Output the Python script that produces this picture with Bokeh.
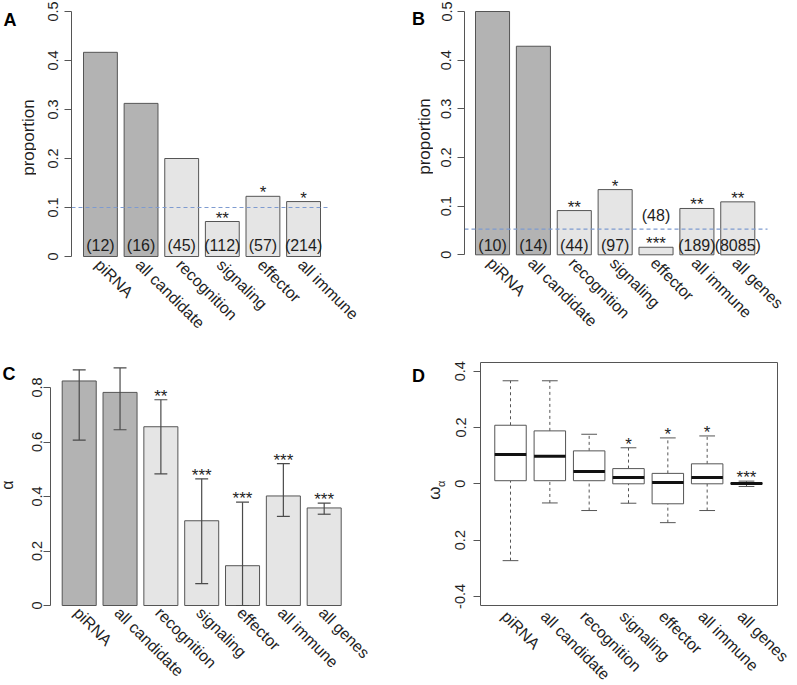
import numpy as np
from bokeh.plotting import figure
from bokeh.models import ColumnDataSource, Range1d, LabelSet, Label, FixedTicker
from bokeh.layouts import column, row
from bokeh.embed import file_html
from bokeh.resources import INLINE
from bokeh.core.properties import value

FONT = "Liberation Sans"

# ---------------- data ----------------
# Panel A: proportion of genes (first two = piRNA / candidate, rest immune)
a_categories = ["piRNA", "all candidate", "recognition", "signaling", "effector", "all immune"]
a_groups = ["dark", "dark", "light", "light", "light", "light"]
a_proportion = [0.4167, 0.3125, 0.2000, 0.0714, 0.1228, 0.1121]
a_counts = ["(12)", "(16)", "(45)", "(112)", "(57)", "(214)"]
a_count_raise = [0, 0, 0, 0, 0, 0]
a_stars = ["", "", "", "**", "*", "*"]
a_reference = 0.1

# Panel B
b_categories = ["piRNA", "all candidate", "recognition", "signaling", "effector", "all immune", "all genes"]
b_groups = ["dark", "dark", "light", "light", "light", "light", "light"]
b_proportion = [0.5000, 0.4286, 0.0909, 0.1340, 0.0155, 0.0952, 0.1088]
b_counts = ["(10)", "(14)", "(44)", "(97)", "(48)", "(189)", "(8085)"]
b_count_raise = [0, 0, 0, 0, 1, 0, 0]
b_stars = ["", "", "**", "*", "***", "**", "**"]
b_reference = 0.0527

# Panel C: alpha with confidence intervals
c_categories = ["piRNA", "all candidate", "recognition", "signaling", "effector", "all immune", "all genes"]
c_groups = ["dark", "dark", "light", "light", "light", "light", "light"]
c_alpha = [0.824, 0.782, 0.656, 0.311, 0.146, 0.402, 0.358]
c_lower = [0.607, 0.645, 0.483, 0.080, 0.000, 0.327, 0.335]
c_upper = [0.865, 0.872, 0.755, 0.465, 0.379, 0.521, 0.376]
c_stars = ["", "", "**", "***", "***", "***", "***"]

# Panel D: omega_alpha box plots
d_categories = ["piRNA", "all candidate", "recognition", "signaling", "effector", "all immune", "all genes"]
d_low = [-0.273, -0.068, -0.095, -0.069, -0.138, -0.095, -0.0095]
d_q1 = [0.011, 0.011, 0.011, 0.000, -0.071, 0.000, -0.001]
d_median = [0.104, 0.098, 0.044, 0.0225, 0.005, 0.0225, 0.001]
d_q3 = [0.208, 0.188, 0.117, 0.054, 0.037, 0.071, 0.0035]
d_high = [0.366, 0.366, 0.176, 0.128, 0.163, 0.170, 0.0095]
d_stars = ["", "", "", "*", "*", "*", "***"]

# ---------------- style ----------------
COLORS = {"dark": "#B3B3B3", "light": "#E5E5E5"}
EDGE = "#555555"
TXT = "#1e1e1e"
TICK_FS = "14.5px"
CAT_FS = "16px"
CNT_FS = "16px"
STAR_FS = "17px"
LAB_FS = "17px"
LET_FS = "18px"
REF_COLOR = "#7E9BD0"


def lin(px, p0, v0, p1, v1):
    return v0 + (px - p0) * (v1 - v0) / (p1 - p0)


def side_fig(w, h):
    p = figure(width=w, height=h, x_range=Range1d(0, w), y_range=Range1d(h, 0),
               output_backend="svg", toolbar_location=None, tools="", title=None,
               x_axis_location=None, y_axis_location=None, min_border=0)
    p.grid.visible = False
    p.outline_line_color = None
    return p


def main_fig(origin, size, frame_left, xmap, ymap, standoff):
    ox, oy = origin
    w, h = size
    xr = Range1d(lin(frame_left, *xmap), lin(ox + w, *xmap))
    yr = Range1d(lin(oy + h, *ymap), lin(oy, *ymap))
    p = figure(width=w, height=h, x_range=xr, y_range=yr, title=None,
               output_backend="svg", toolbar_location=None, tools="",
               x_axis_location=None,
               min_border_left=frame_left - ox, min_border_right=0,
               min_border_top=0, min_border_bottom=0)
    p.grid.visible = False
    p.outline_line_color = None
    ax = p.yaxis[0]
    ax.axis_line_color = EDGE
    ax.major_tick_line_color = EDGE
    ax.minor_tick_line_color = None
    ax.major_tick_out = 7
    ax.major_tick_in = 0
    ax.major_label_orientation = "vertical"
    ax.major_label_text_font = FONT
    ax.major_label_text_font_size = TICK_FS
    ax.major_label_text_color = TXT
    ax.major_label_standoff = standoff
    return p


def y_ticks(p, ticks, labels, bounds):
    ax = p.yaxis[0]
    ax.ticker = FixedTicker(ticks=ticks)
    ax.major_label_overrides = {t: l for t, l in zip(ticks, labels)}
    ax.bounds = bounds


def cat_labels(p, xs, y, cats, xoff, yoff):
    src = ColumnDataSource(dict(x=list(xs), y=[y] * len(xs), t=cats))
    p.add_layout(LabelSet(x="x", y="y", text="t", source=src, angle=-np.pi / 4,
                          x_offset=xoff, y_offset=yoff,
                          text_align="left", text_baseline="alphabetic",
                          text_font=value(FONT), text_font_size=CAT_FS,
                          text_color=TXT))


def star_labels(p, xs, ys, stars):
    src = ColumnDataSource(dict(x=list(xs), y=list(ys), t=stars))
    p.add_layout(LabelSet(x="x", y="y", text="t", source=src, y_offset=-2,
                          text_align="center", text_baseline="alphabetic",
                          text_font=value(FONT), text_font_size=STAR_FS,
                          text_color=TXT))


def count_labels(p, xs, counts, raise_, base_off, raise_off):
    src = ColumnDataSource(dict(x=list(xs), y=[0] * len(xs), t=counts,
                                off=[base_off + raise_off * r for r in raise_]))
    p.add_layout(LabelSet(x="x", y="y", text="t", source=src, y_offset="off",
                          text_align="center", text_baseline="middle",
                          text_font=value(FONT), text_font_size=CNT_FS,
                          text_color=TXT))


def letter(p, text, x, y):
    p.add_layout(Label(x=x, y=y, text=text, text_font=FONT, text_font_style="bold",
                       text_font_size=LET_FS, text_color="black",
                       text_align="left", text_baseline="alphabetic"))


def ylabel(p, text, x, y, fs=LAB_FS):
    p.add_layout(Label(x=x, y=y, text=text, angle=np.pi / 2, text_font=FONT,
                       text_font_size=fs, text_color=TXT, text_align="center",
                       text_baseline="middle"))


def bars(p, groups, vals, xs):
    src = ColumnDataSource(dict(x=list(xs), top=vals,
                                color=[COLORS[g] for g in groups]))
    p.vbar(x="x", top="top", bottom=0, width=1.0, source=src,
           fill_color="color", line_color=EDGE, line_width=1)


def ref_line(p, yv, px0, px1, xmap):
    p.segment(x0=[lin(px0, *xmap)], y0=[yv], x1=[lin(px1, *xmap)], y1=[yv],
              line_color=REF_COLOR, line_dash="4 3", line_width=1.2)


# ---------------- Panel A ----------------
xa = 0.7 + 1.2 * np.arange(len(a_categories))
sA = side_fig(36, 340)
letter(sA, "A", 3, 19.5)
ylabel(sA, "proportion", 27.5, 137)
xmapA = (83, 0.2, 320, 7.2)
pA = main_fig((36, 0), (364, 340), 71, xmapA, (256, 0.0, 11, 0.5), 7)
bars(pA, a_groups, a_proportion, xa)
ref_line(pA, a_reference, 71, 330, xmapA)
y_ticks(pA, [0, 0.1, 0.2, 0.3, 0.4, 0.5], ["0", "0.1", "0.2", "0.3", "0.4", "0.5"], (0, 0.5))
count_labels(pA, xa, a_counts, a_count_raise, 11, 30)
star_labels(pA, xa, a_proportion, a_stars)
cat_labels(pA, xa, 0, a_categories, -6.5, -9.5)

# ---------------- Panel B ----------------
xb = 0.7 + 1.2 * np.arange(len(b_categories))
sB = side_fig(33, 340)
letter(sB, "B", 11.5, 18.5)
ylabel(sB, "proportion", 24, 136)
xmapB = (475, 0.2, 754.3, 8.4)
pB = main_fig((433, 0), (364, 340), 464, xmapB, (254.3, 0.0, 11, 0.5), 6)
bars(pB, b_groups, b_proportion, xb)
ref_line(pB, b_reference, 464, 767, xmapB)
y_ticks(pB, [0, 0.1, 0.2, 0.3, 0.4, 0.5], ["0", "0.1", "0.2", "0.3", "0.4", "0.5"], (0, 0.5))
count_labels(pB, xb, b_counts, b_count_raise, 9.5, 30)
star_labels(pB, xb, b_proportion, b_stars)
cat_labels(pB, xb, 0, b_categories, -6.5, -9.5)

# ---------------- Panel C ----------------
xc = 0.7 + 1.2 * np.arange(len(c_categories))
sC = side_fig(20, 345)
letter(sC, "C", 2, 33.3)
ylabel(sC, "α", 6.7, 144.7, "16px")
pC = main_fig((20, 340), (380, 345), 50, (61.7, 0.2, 340.7, 8.4), (605, 0.0, 387, 0.8), 2)
bars(pC, c_groups, c_alpha, xc)
err = ColumnDataSource(dict(x=list(xc), lo=c_lower, hi=c_upper,
                            l=list(xc - 0.19), r=list(xc + 0.19)))
for a, b_, c, d in [("x", "lo", "x", "hi"), ("l", "hi", "r", "hi"), ("l", "lo", "r", "lo")]:
    pC.segment(x0=a, y0=b_, x1=c, y1=d, source=err, line_color="#4a4a4a", line_width=1.2)
y_ticks(pC, [0, 0.2, 0.4, 0.6, 0.8], ["0", "0.2", "0.4", "0.6", "0.8"], (0, 0.8))
star_labels(pC, xc, c_upper, c_stars)
cat_labels(pC, xc, 0, c_categories, -6.5, -8.5)

# ---------------- Panel D ----------------
xd = 1.0 + np.arange(len(d_categories))
sD = side_fig(47, 345)
letter(sD, "D", 11.5, 35)
ylabel(sD, "ω", 33.5, 152.5, "17px")
ylabel(sD, "α", 40, 143.3, "11px")
xmapD = (510, 1.0, 746, 7.0)
ymapD = (483.3, 0.0, 370.7, 0.4)
pD = main_fig((447, 340), (350, 345), 480, xmapD, ymapD, 8)
box_l, box_r = lin(480, *xmapD), lin(777, *xmapD)
box_b, box_t = lin(605, *ymapD), lin(362, *ymapD)
pD.quad(left=[box_l], right=[box_r], bottom=[box_b], top=[box_t],
        fill_color=None, line_color=EDGE, line_width=1)
y_ticks(pD, [-0.4, -0.2, 0, 0.2, 0.4], ["-0.4", "0.2", "0", "0.2", "0.4"], (box_b, box_t))
bx = ColumnDataSource(dict(x=list(xd), lo=d_low, q1=d_q1, med=d_median, q3=d_q3, hi=d_high,
                           bl=list(xd - 0.4), br=list(xd + 0.4),
                           sl=list(xd - 0.2), sr=list(xd + 0.2)))
pD.segment(x0="x", y0="q3", x1="x", y1="hi", source=bx, line_color=EDGE, line_dash="3 3")
pD.segment(x0="x", y0="lo", x1="x", y1="q1", source=bx, line_color=EDGE, line_dash="3 3")
pD.segment(x0="sl", y0="hi", x1="sr", y1="hi", source=bx, line_color=EDGE)
pD.segment(x0="sl", y0="lo", x1="sr", y1="lo", source=bx, line_color=EDGE)
pD.vbar(x="x", bottom="q1", top="q3", width=0.8, source=bx, fill_color="white",
        line_color=EDGE, line_width=1)
pD.segment(x0="bl", y0="med", x1="br", y1="med", source=bx, line_color="#111111", line_width=3)
star_labels(pD, xd, d_high, d_stars)
cat_labels(pD, xd, box_b, d_categories, -10, -12)

layout = column(row(sA, pA, sB, pB), row(sC, pC, sD, pD))
open("out.html", "w").write(file_html(layout, INLINE))
